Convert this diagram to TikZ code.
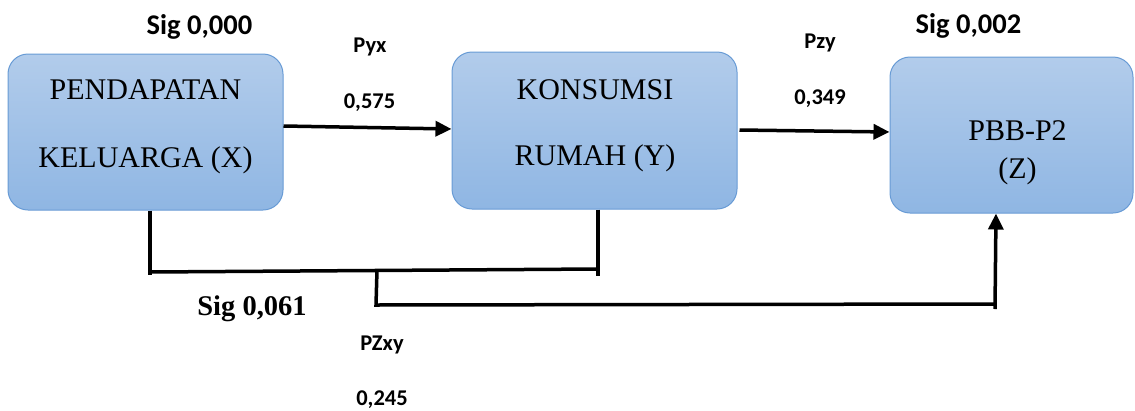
\documentclass[tikz,border=0pt]{standalone}
\usepackage{fontspec}
\setmainfont{Liberation Serif}
\newfontfamily\lblfont[BoldFont={Carlito Bold}]{Carlito}
\usetikzlibrary{arrows.meta}
\definecolor{boxtop}{RGB}{178,204,235}
\definecolor{boxbot}{RGB}{143,182,227}
\definecolor{boxline}{RGB}{104,155,213}
\tikzset{
  varbox/.style={draw=boxline, line width=1pt, rounded corners=20pt,
    top color=boxtop, bottom color=boxbot, inner sep=0pt},
  boxtext/.style={anchor=base, inner sep=0pt, font=\fontsize{30}{32}\selectfont},
  siglbl/.style={anchor=base, inner sep=0pt, font=\lblfont\bfseries\fontsize{28.5}{30}\selectfont},
  coeflbl/.style={anchor=base, inner sep=0pt, font=\lblfont\bfseries\fontsize{22.5}{24}\selectfont},
  ln/.style={line width=3.5pt, black},
  arr/.style={ln, -{Triangle[length=16pt,width=15pt]}}
}
\begin{document}
\begin{tikzpicture}[x=1pt,y=-1pt]
\useasboundingbox (0,0) rectangle (1135,410);

% variable boxes
\node[varbox, minimum width=275pt, minimum height=156pt] (X) at (145.5,132) {};
\node[varbox, minimum width=285pt, minimum height=157pt] (Y) at (594.5,130.5) {};
\node[varbox, minimum width=243pt, minimum height=156pt] (Z) at (1011.5,135) {};

% box captions
\node[boxtext] (xt1) at (145.5,99) {PENDAPATAN};
\node[boxtext] (xt2) at (145.5,167) {KELUARGA (X)};
\node[boxtext] (yt1) at (595,99) {KONSUMSI};
\node[boxtext] (yt2) at (595,165) {RUMAH (Y)};
\node[boxtext] (zt1) at (1017.5,140) {PBB-P2};
\node[boxtext] (zt2) at (1017.5,178) {(Z)};

% significance and path coefficients
\node[siglbl] (s1) at (199.5,34) {Sig 0,000};
\node[siglbl] (s2) at (968.5,33) {Sig 0,002};
\node[anchor=base, inner sep=0pt, font=\bfseries\fontsize{28.5}{30}\selectfont] (s3) at (252,315) {Sig 0,061};
\node[coeflbl] (p1) at (370,52) {Pyx};
\node[coeflbl] (c1) at (369.5,108) {0,575};
\node[coeflbl] (p2) at (820,48) {Pzy};
\node[coeflbl] (c2) at (820,104) {0,349};
\node[coeflbl] (p3) at (382,350) {PZxy};
\node[coeflbl] (c3) at (382,405) {0,245};

% direct paths
\draw[arr] ([yshift=6pt]X.east) -- ([yshift=1.5pt]Y.west);
\draw[arr] ([xshift=2pt,yshift=0.5pt]Y.east) -- ([yshift=3pt]Z.west);

% joint path of X and Y towards Z
\coordinate (bl) at (150,272);
\coordinate (br) at (598,269);
\coordinate (blend) at (150,275);
\coordinate (brend) at (598,276);
\coordinate (bm) at (377,270);
\coordinate (bd) at (376,305);
\coordinate (zr) at (995,304);
\coordinate (zrend) at (995,309);
\draw[ln] ([xshift=4.5pt]X.south) -- (blend);
\draw[ln] ([xshift=3.5pt]Y.south) -- (brend);
\draw[ln] (bl) -- (br);
\draw[ln, line join=miter] (bm) -- (bd) -- (zr);
\draw[arr] (zrend) -- ([xshift=-15.5pt]Z.south);
\end{tikzpicture}
\end{document}
